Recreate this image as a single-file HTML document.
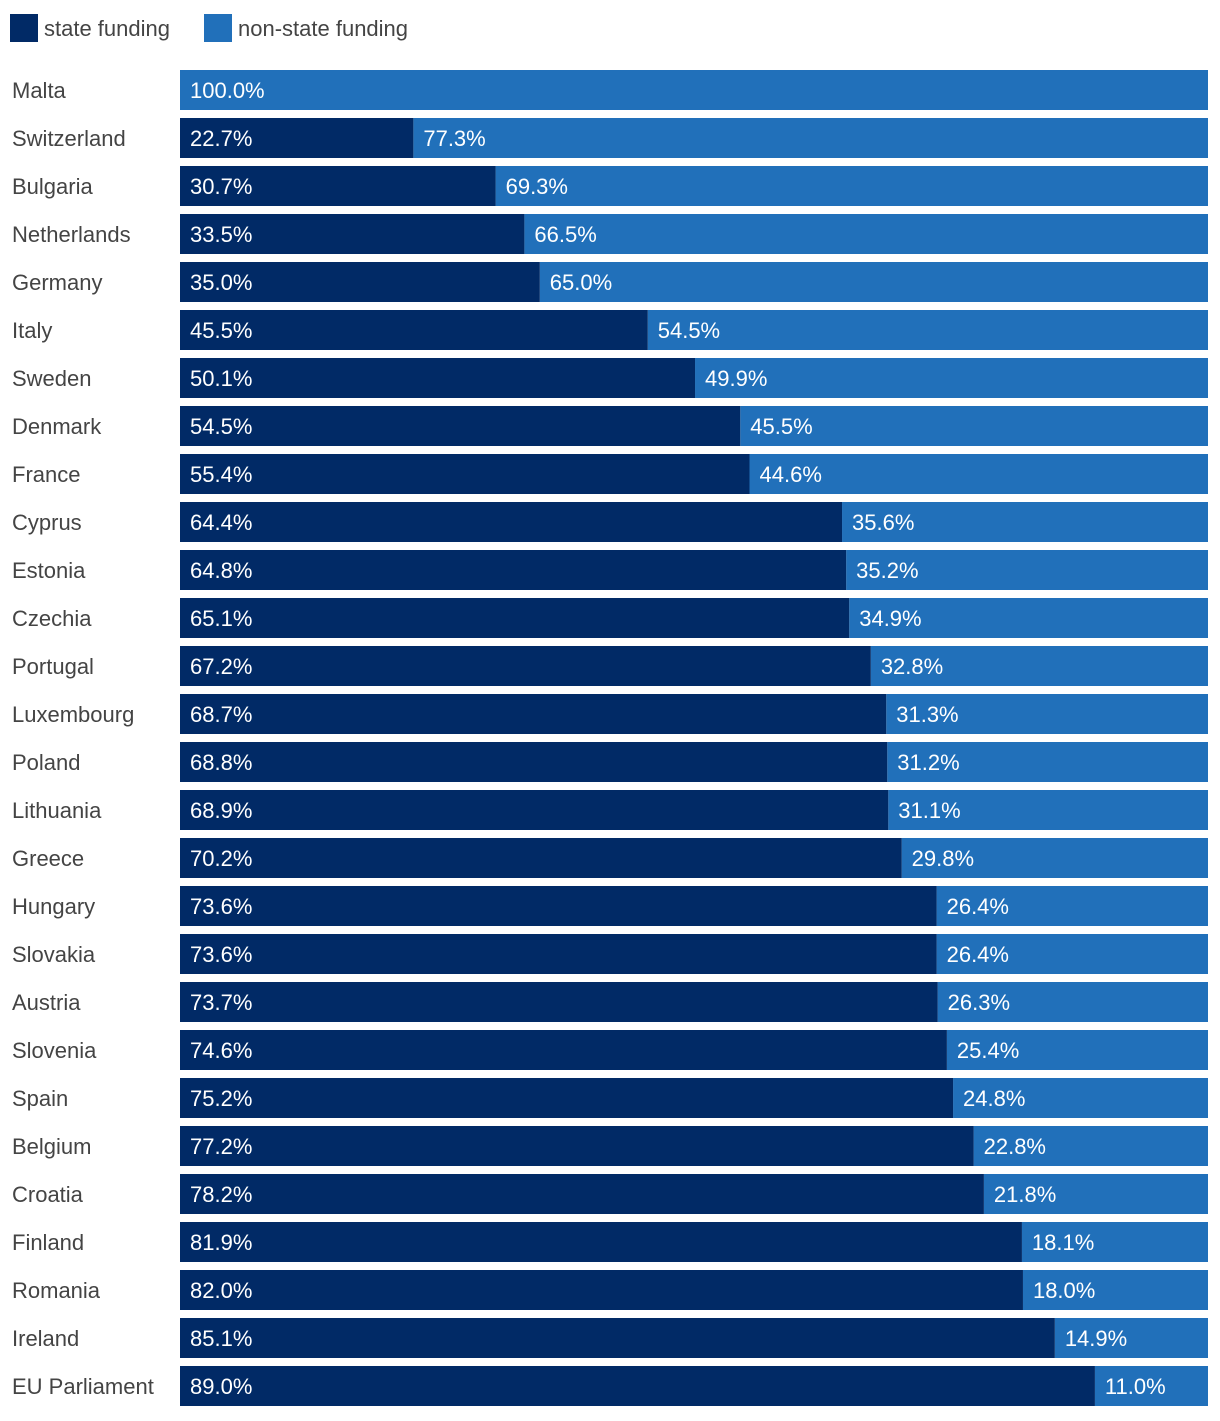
<!DOCTYPE html>
<html><head><meta charset="utf-8"><style>
body{margin:0;background:#fff;width:1220px;height:1416px;overflow:hidden;font-family:"Liberation Sans",sans-serif;}
svg text{font-family:"Liberation Sans",sans-serif;}
</style></head><body>
<svg id="chart" width="1220" height="1416" xmlns="http://www.w3.org/2000/svg">
<g>
<rect x="10" y="14" width="28" height="28" fill="#012a66"/>
<text x="44" y="36" font-size="22" fill="#444">state funding</text>
<rect x="204" y="14" width="28" height="28" fill="#2170ba"/>
<text x="238" y="36" font-size="22" fill="#444">non-state funding</text>
</g>
<g id="bars"></g>
</svg>
<script>
const categories=["Malta","Switzerland","Bulgaria","Netherlands","Germany","Italy","Sweden","Denmark","France","Cyprus","Estonia","Czechia","Portugal","Luxembourg","Poland","Lithuania","Greece","Hungary","Slovakia","Austria","Slovenia","Spain","Belgium","Croatia","Finland","Romania","Ireland","EU Parliament"];
const stateValues=[0,22.7,30.7,33.5,35.0,45.5,50.1,54.5,55.4,64.4,64.8,65.1,67.2,68.7,68.8,68.9,70.2,73.6,73.6,73.7,74.6,75.2,77.2,78.2,81.9,82.0,85.1,89.0];
const nonStateValues=[100.0,77.3,69.3,66.5,65.0,54.5,49.9,45.5,44.6,35.6,35.2,34.9,32.8,31.3,31.2,31.1,29.8,26.4,26.4,26.3,25.4,24.8,22.8,21.8,18.1,18.0,14.9,11.0];
const NS="http://www.w3.org/2000/svg";
const x0=180,W=1028,y0=70,step=48,bh=40;
const xs=v=>x0+v/100*W;
const ys=i=>y0+i*step;
const g=document.getElementById('bars');
function mk(tag,attrs){const e=document.createElementNS(NS,tag);for(const k in attrs)e.setAttribute(k,attrs[k]);return e;}
categories.forEach((c,i)=>{
  const y=ys(i);
  const lab=mk('text',{x:12,y:y+28,'font-size':22,fill:'#444'});
  
  
  lab.textContent=c;g.appendChild(lab);
  const s=stateValues[i],n=nonStateValues[i];
  const xe=xs(s);
  const r2=mk('rect',{x:xe,y:y,width:xs(s+n)-xe,height:bh,fill:'#2170ba'});
  
  
  g.appendChild(r2);
  if(s>0){
    const r1=mk('rect',{x:x0,y:y,width:xe-x0,height:bh,fill:'#012a66'});
    
    
    g.appendChild(r1);
    const t1=mk('text',{x:x0+10,y:y+28,'font-size':22,fill:'#fff'});
    
    
    t1.textContent=s.toFixed(1)+'%';g.appendChild(t1);
  }
  const t2=mk('text',{x:xe+10,y:y+28,'font-size':22,fill:'#fff'});
  
  
  t2.textContent=n.toFixed(1)+'%';g.appendChild(t2);
});
</script>
</body></html>
